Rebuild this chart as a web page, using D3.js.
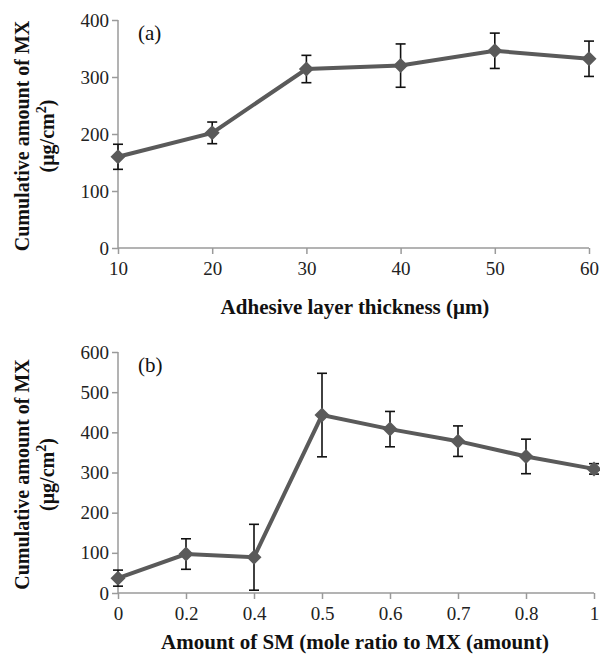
<!DOCTYPE html>
<html>
<head>
<meta charset="utf-8">
<script src="https://cdn.jsdelivr.net/npm/d3@7"></script>
<style>
  body { margin: 0; background: #fff; }
  svg { display: block; }
  text { font-family: "Liberation Serif", "Times New Roman", serif; }
</style>
</head>
<body>
<svg width="600" height="654"></svg>
<script>
// panel (a)
const thickness = ["10", "20", "30", "40", "50", "60"];
const amountA = [160, 202, 314, 320, 346, 332];
const errA = [22, 19, 24, 38, 31, 31];

// panel (b)
const smRatio = ["0", "0.2", "0.4", "0.5", "0.6", "0.7", "0.8", "1"];
const amountB = [37, 97, 89, 443, 408, 378, 340, 309];
const errB = [20, 38, 82, 104, 44, 38, 43, 13];

const svg = d3.select("svg");

function panel(opt) {
  const g = svg.append("g");
  const x = d3.scalePoint().domain(opt.cats).range([118, opt.right]);
  const y = d3.scaleLinear().domain([0, opt.ymax]).range([opt.bottom, opt.top]);

  // y axis
  const ya = g.append("g").attr("transform", "translate(118,0)")
    .call(d3.axisLeft(y).tickValues(d3.range(0, opt.ymax + 1, 100)).tickSize(6).tickPadding(3));
  // x axis
  const xa = g.append("g").attr("transform", `translate(0,${opt.bottom})`)
    .call(d3.axisBottom(x).tickSize(6).tickPadding(8));
  [ya, xa].forEach(a => {
    a.select(".domain").attr("stroke", "#9a9a9a").attr("stroke-width", 1.5);
    a.selectAll(".tick line").attr("stroke", "#9a9a9a").attr("stroke-width", 1.5);
    a.selectAll(".tick text").attr("fill", "#222").style("font-size", "19px")
      .style("font-family", "'Liberation Serif', serif");
  });
  ya.select(".domain").attr("d", `M0,${opt.bottom}V${opt.top}`);
  xa.select(".domain").attr("d", `M118,0H${opt.right}`);

  const pts = opt.cats.map((c, i) => ({ c, v: opt.vals[i], e: opt.errs[i] }));

  // error bars
  const eb = g.append("g").attr("stroke", "#111").attr("stroke-width", 1.6);
  pts.forEach(d => {
    const cx = x(d.c);
    const lo = Math.max(0, d.v - d.e);
    eb.append("line").attr("x1", cx).attr("x2", cx).attr("y1", y(d.v + d.e)).attr("y2", y(lo));
    eb.append("line").attr("x1", cx - 5).attr("x2", cx + 5).attr("y1", y(d.v + d.e)).attr("y2", y(d.v + d.e));
    if (d.v - d.e > 0)
      eb.append("line").attr("x1", cx - 5).attr("x2", cx + 5).attr("y1", y(lo)).attr("y2", y(lo));
  });

  // line
  g.append("path").datum(pts)
    .attr("fill", "none").attr("stroke", "#5a5a5a").attr("stroke-width", 4)
    .attr("d", d3.line().x(d => x(d.c)).y(d => y(d.v)));

  // diamond markers
  g.selectAll(".mk").data(pts).join("path")
    .attr("fill", "#5a5a5a")
    .attr("d", d => {
      const cx = x(d.c), cy = y(d.v), r = 7.5;
      return `M${cx},${cy - r}L${cx + r},${cy}L${cx},${cy + r}L${cx - r},${cy}Z`;
    });

  // panel tag
  g.append("text").attr("x", 138).attr("y", opt.top + 20)
    .style("font-size", "21px").attr("fill", "#111").text(opt.tag);

  // y title
  const cy = (opt.top + opt.bottom) / 2 + 2;
  const yt = g.append("text").attr("transform", `translate(29,${cy}) rotate(-90)`)
    .attr("text-anchor", "middle").style("font-size", "20px").style("font-weight", "bold").attr("fill", "#111");
  yt.text("Cumulative amount of MX");
  const yt2 = g.append("text").attr("transform", `translate(54,${cy}) rotate(-90)`)
    .attr("text-anchor", "middle").style("font-size", "20px").style("font-weight", "bold").attr("fill", "#111");
  yt2.append("tspan").text("(\u03bcg/cm");
  yt2.append("tspan").attr("dy", -8).style("font-size", "14px").text("2");
  yt2.append("tspan").attr("dy", 8).text(")");

  // x title
  g.append("text").attr("x", 355).attr("y", opt.bottom + opt.xtOff)
    .attr("text-anchor", "middle").style("font-size", "21px").style("font-weight", "bold").attr("fill", "#111")
    .text(opt.xtitle);
}

panel({ cats: thickness, vals: amountA, errs: errA, ymax: 400, top: 20, bottom: 248, right: 589, xtOff: 66,
        tag: "(a)", xtitle: "Adhesive layer thickness (\u03bcm)" });
panel({ cats: smRatio, vals: amountB, errs: errB, ymax: 600, top: 352, bottom: 593, right: 594, xtOff: 56,
        tag: "(b)", xtitle: "Amount of SM (mole ratio to MX (amount)" });
</script>
</body>
</html>
